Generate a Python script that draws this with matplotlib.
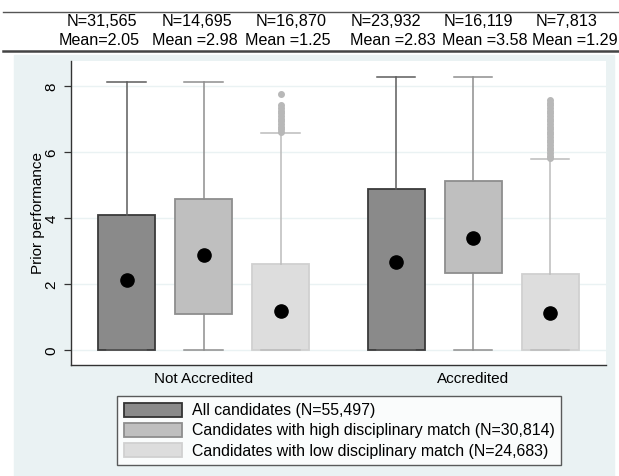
import matplotlib
matplotlib.use('Agg')
import matplotlib.pyplot as plt
from matplotlib.patches import Patch, Rectangle
from matplotlib.lines import Line2D
from matplotlib.transforms import Bbox, TransformedBbox

plt.rcParams['font.family'] = ['Liberation Sans', 'DejaVu Sans']

# data
groups = ['Not Accredited', 'Accredited']
series = ['All candidates (N=55,497)',
          'Candidates with high disciplinary match (N=30,814)',
          'Candidates with low disciplinary match (N=24,683)']
# per series: [not accredited, accredited]
q1 = [[0.0, 0.0], [1.1, 2.33], [0.0, 0.0]]
q3 = [[4.09, 4.88], [4.6, 5.12], [2.62, 2.32]]
whis_lo = [[0.0, 0.0], [0.0, 0.0], [0.0, 0.0]]
whis_hi = [[8.13, 8.29], [8.13, 8.29], [6.58, 5.79]]
mean_dot = [[2.13, 2.67], [2.88, 3.41], [1.2, 1.13]]
fliers = [[[], []], [[], []],
          [[6.62, 6.7, 6.78, 6.86, 6.94, 7.02, 7.1, 7.18, 7.26, 7.34, 7.42,
            7.77],
           [5.82, 5.9, 5.98, 6.06, 6.14, 6.22, 6.3, 6.38, 6.46, 6.54, 6.62,
            6.7, 6.78, 6.86, 6.94, 7.02, 7.1, 7.18, 7.26, 7.34, 7.42, 7.5,
            7.58]]]

table_n = ['N=31,565', 'N=14,695', 'N=16,870', 'N=23,932', 'N=16,119',
           'N=7,813']
table_mean = ['Mean=2.05', 'Mean =2.98', 'Mean =1.25', 'Mean =2.83',
              'Mean =3.58', 'Mean =1.29']

yticks = [0, 2, 4, 6, 8]

# styling
fills = ['#8a8a8a', '#bfbfbf', '#dddddd']
edges = ['#3a3a3a', '#8e8e8e', '#d0d0d0']
whisk = ['#5c5c5c', '#8e8e8e', '#bcbcbc']
bg = '#eaf2f3'
W, H = 619, 476

fig = plt.figure(figsize=(W / 100, H / 100), dpi=100)
fig.patch.set_facecolor('white')
fig.patches.append(Rectangle((14 / W, 0), 600 / W, (H - 55) / H,
                             transform=fig.transFigure, color=bg,
                             zorder=-5))

ax = fig.add_axes([70.7 / W, (H - 365) / H, 535.3 / W, 304.3 / H])
ax.set_facecolor('white')

group_pos = [[1, 4.5], [2, 5.5], [3, 6.5]]
for s in range(3):
    stats = []
    for g in range(2):
        stats.append(dict(med=q1[s][g], q1=q1[s][g], q3=q3[s][g],
                          whislo=whis_lo[s][g], whishi=whis_hi[s][g],
                          mean=mean_dot[s][g], fliers=fliers[s][g]))
    ax.bxp(stats, positions=group_pos[s], widths=0.74, capwidths=0.5,
           patch_artist=True, showmeans=True,
           boxprops=dict(facecolor=fills[s], edgecolor=edges[s], lw=1.3),
           whiskerprops=dict(color=whisk[s], lw=1.1),
           capprops=dict(color=whisk[s], lw=1.1),
           medianprops=dict(lw=0),
           meanprops=dict(marker='o', markerfacecolor='black',
                          markeredgecolor='black', markersize=9.5),
           flierprops=dict(marker='o', markerfacecolor='#b8b8b8',
                           markeredgecolor='#b8b8b8', markersize=4))

ax.set_xlim(0.273, 7.225)
ax.set_ylim(-0.445, 8.776)
ax.set_yticks(yticks)
ax.set_yticklabels([str(t) for t in yticks], rotation=90, va='center',
                   fontsize=11)
ax.set_xticks([2, 5.5])
ax.set_xticklabels(groups, fontsize=11)
ax.tick_params(axis='x', length=0, pad=5)
ax.tick_params(axis='y', length=5, width=0.9, color='#333333', pad=4)
ax.grid(axis='y', color=bg, lw=1)
ax.set_axisbelow(True)
for side in ['top', 'right']:
    ax.spines[side].set_visible(False)
for side in ['left', 'bottom']:
    ax.spines[side].set_color('#333333')
    ax.spines[side].set_linewidth(1)
ax.text(-0.061, 0.5, 'Prior performance', rotation=90, ha='center',
        va='center', fontsize=11, transform=ax.transAxes)

# table above the plot
fig.add_artist(Line2D([3 / W, 1], [1 - 11.7 / H] * 2, color='#555555',
                      lw=1, transform=fig.transFigure))
fig.add_artist(Line2D([3 / W, 1], [1 - 51 / H] * 2, color='#444444',
                      lw=1.8, transform=fig.transFigure))
n_x = [102, 197, 291, 386, 478, 567]
mean_x = [59, 152, 245, 350, 442, 532]
clip_r = [152, 245, 350, 437, 528, 619]
for i in range(6):
    fig.text(n_x[i] / W, 1 - 21.7 / H, table_n[i], ha='center', va='center',
             fontsize=11.6)
    t = fig.text(mean_x[i] / W, 1 - 40.7 / H, table_mean[i], ha='left',
                 va='center', fontsize=11.6)
    t.set_clip_box(TransformedBbox(
        Bbox.from_extents(mean_x[i] / W, 0.8, clip_r[i] / W, 1.0),
        fig.transFigure))
    t.set_clip_on(True)

handles = [Patch(facecolor=fills[s], edgecolor=edges[s] if s else '#333333',
                 lw=1.3) for s in range(3)]
leg = fig.legend(handles, series, loc='upper left',
                 bbox_to_anchor=(117 / W, 1 - 396 / H), fontsize=11.4,
                 frameon=True, fancybox=False, borderaxespad=0,
                 borderpad=0.42, labelspacing=0.3, handlelength=3.7,
                 handleheight=1.0, handletextpad=0.6)
leg.get_frame().set_edgecolor('#333333')
leg.get_frame().set_linewidth(1)
leg.get_frame().set_facecolor('white')

fig.savefig('out.png', dpi=100)
